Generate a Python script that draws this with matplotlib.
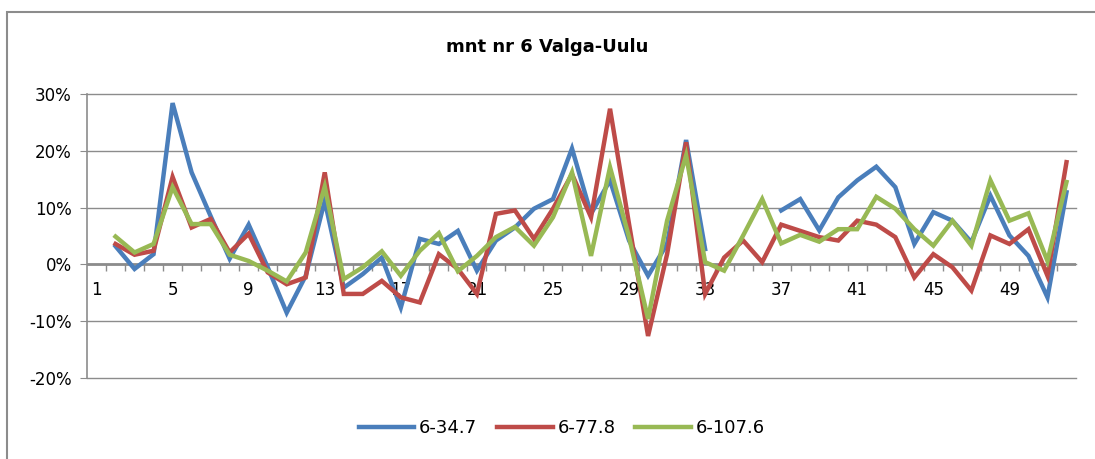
import numpy as np
import matplotlib.pyplot as plt
from matplotlib.patches import Rectangle
from matplotlib.ticker import FuncFormatter

nan = np.nan

# categories 1..52, category 1 has no data
categories = list(range(1, 53))

blue_34_7 = [nan, 3.2, -0.8, 1.8, 28.4, 16.2, 8.5, 1.0, 7.0, -0.5, -8.5, -2.0, 11.2,
             -4.1, -1.7, 1.2, -7.6, 4.5, 3.6, 5.9, -1.1, 4.2, 6.5, 9.8, 11.5, 20.4,
             8.9, 14.8, 4.2, -2.0, 3.6, 21.9, 2.7, nan, nan, nan, 9.5, 11.5, 6.0,
             11.8, 14.8, 17.2, 13.6, 3.6, 9.2, 7.7, 3.9, 12.1, 5.1, 1.5, -5.8, 12.7]

red_77_8 = [nan, 3.6, 1.7, 2.4, 15.4, 6.5, 8.0, 2.1, 5.4, -1.4, -3.5, -2.3, 16.2,
            -5.2, -5.2, -2.9, -5.8, -6.7, 1.8, -0.8, -5.2, 8.9, 9.5, 4.5, 9.8, 15.9,
            8.3, 27.4, 7.1, -12.6, 1.8, 21.5, -5.2, 1.2, 4.2, 0.4, 7.0, 5.9, 4.8,
            4.2, 7.7, 7.0, 4.8, -2.3, 1.8, -0.5, -4.6, 5.1, 3.6, 6.2, -2.0, 18.0]

green_107_6 = [nan, 4.9, 2.1, 3.6, 13.6, 7.1, 7.1, 1.7, 0.6, -1.1, -3.0, 2.1, 13.7,
               -2.6, -0.5, 2.3, -2.0, 2.4, 5.5, -1.2, 1.5, 4.8, 6.6, 3.3, 8.3, 16.2,
               1.5, 17.1, 4.8, -9.6, 7.7, 19.2, 0.4, -1.1, 5.1, 11.5, 3.7, 5.2, 4.0,
               6.2, 6.2, 11.9, 9.8, 6.2, 3.3, 7.7, 3.3, 14.8, 7.7, 9.0, 0.6, 14.5]

labels = ['6-34.7', '6-77.8', '6-107.6']
colors = ['#4A7EBB', '#BE4B48', '#98B954']
yticks = [-20, -10, 0, 10, 20, 30]

fig = plt.figure(figsize=(10.95, 4.59), dpi=100)
ax = fig.add_axes([87 / 1095, 1 - 378 / 459, (1076 - 87) / 1095, (378 - 94) / 459])

for vals, lab, col in zip([blue_34_7, red_77_8, green_107_6], labels, colors):
    ax.plot(categories, vals, color=col, lw=3.2, label=lab, solid_joinstyle='miter')

ax.set_xlim(0.5, 52.5)
ax.set_ylim(-20, 30)
ax.set_yticks(yticks)
ax.yaxis.set_major_formatter(FuncFormatter(lambda v, p: f'{v:.0f}%'))

# horizontal gridlines (not clipped so the edge lines show fully)
for t in yticks:
    ax.axhline(t, color='#8C8C8C', lw=1, zorder=0.5, clip_on=False)

for s in ['top', 'right', 'bottom']:
    ax.spines[s].set_visible(False)
ax.spines['left'].set_color('#8C8C8C')
ax.spines['left'].set_linewidth(1.2)
ax.axhline(0, color='#8C8C8C', lw=2, zorder=1.5)

# x ticks: labels every 4th category, tick marks between categories on the zero line
ax.spines['bottom'].set_position(('data', 0))
ax.set_xticks(categories[::4])
ax.set_xticklabels([str(c) for c in categories[::4]])
ax.set_xticks(np.arange(1.5, 52.5, 1), minor=True)
ax.tick_params(axis='x', which='major', length=0, pad=12, labelsize=12)
ax.tick_params(axis='x', which='minor', length=5, color='#8C8C8C', width=1, direction='out')
ax.tick_params(axis='y', length=5, color='#8C8C8C', labelsize=12, pad=6)

fig.text(0.5, 1 - 47 / 459, 'mnt nr 6 Valga-Uulu', ha='center', va='center',
         fontsize=13, fontweight='bold', family=['Liberation Sans Narrow', 'DejaVu Sans'])

ax.legend(loc='center', bbox_to_anchor=(0.48, -0.176), ncol=3, frameon=False,
          fontsize=13, handlelength=3.1, columnspacing=1.1, handletextpad=0.25)

fig.patches.append(Rectangle((7 / 1095, -0.1), 1.2, 1 - 12.5 / 459 + 0.1,
                             transform=fig.transFigure, fill=False,
                             edgecolor='#8C8C8C', lw=1.5))

fig.savefig('out.png', dpi=100)
